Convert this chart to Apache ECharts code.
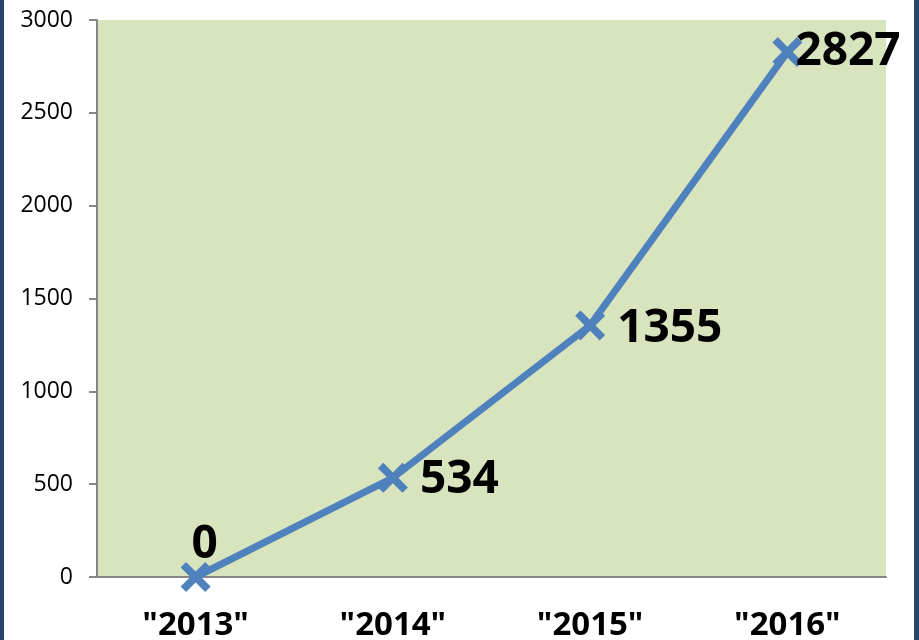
<!DOCTYPE html>
<html>
<head>
    <meta charset="utf-8">
    <title>增长趋势</title>
    <script src="https://cdn.jsdelivr.net/npm/echarts@6/dist/echarts.min.js"></script>
    <style>
        html, body { margin: 0; padding: 0; background: #fff; }
        #chart1 { width: 919px; height: 640px; }
    </style>
</head>
<body>
<div id="chart1"></div>
<script type="text/javascript">
    // 数据
    var years = ['"2013"', '"2014"', '"2015"', '"2016"'];
    var counts = [0, 534, 1355, 2827];
    var labelPos = ['top', 'right', 'right', 'right'];
    var labelOffset = [[9, 16], [2, 2], [2, 3], [-17, 0]];

    var myChart1 = echarts.init(document.getElementById('chart1'));

    // X 形标记
    var crossPath = 'path://M0,1.8 L1.8,0 L5,3.2 L8.2,0 L10,1.8 L6.8,5 L10,8.2 L8.2,10 L5,6.8 L1.8,10 L0,8.2 L3.2,5 Z';

    var seriesData = counts.map(function (v, i) {
        return {
            value: v,
            label: { position: labelPos[i], offset: labelOffset[i] }
        };
    });

    myChart1.setOption({
        animation: false,
        textStyle: { fontFamily: 'Open Sans' },
        grid: {
            left: 97, right: 33, top: 20, bottom: 63,
            outerBoundsMode: 'none',
            containLabel: false,
            show: true, backgroundColor: '#D7E4BD', borderWidth: 0
        },
        graphic: [
            { type: 'rect', shape: { x: 0, y: 0, width: 4, height: 640 }, style: { fill: '#26456E' } },
            { type: 'rect', shape: { x: 914, y: 0, width: 5, height: 640 }, style: { fill: '#26456E' } }
        ],
        xAxis: {
            type: 'category',
            data: years,
            boundaryGap: true,
            axisLine: { lineStyle: { color: '#868686', width: 2 } },
            axisTick: { length: 8, lineStyle: { color: '#868686', width: 2 } },
            axisLabel: {
                color: '#000', fontSize: 33, fontWeight: 'bold',
                fontFamily: 'Open Sans', margin: 32
            }
        },
        yAxis: {
            type: 'value',
            min: 0, max: 3000, interval: 500,
            splitLine: { show: false },
            axisLine: { show: true, lineStyle: { color: '#868686', width: 2 } },
            axisTick: { show: true, length: 8, lineStyle: { color: '#868686', width: 2 } },
            axisLabel: {
                color: '#000', fontSize: 23, fontFamily: 'Open Sans', margin: 24,
                formatter: function (v) { return String(v); }
            }
        },
        series: [{
            type: 'line',
            data: seriesData,
            symbol: crossPath,
            symbolSize: 30,
            itemStyle: { color: '#4F81BD' },
            lineStyle: { color: '#4F81BD', width: 7 },
            label: {
                show: true,
                color: '#000',
                fontSize: 46,
                fontWeight: 'bold',
                fontFamily: 'Open Sans',
                distance: 10
            }
        }]
    });
</script>
</body>
</html>
